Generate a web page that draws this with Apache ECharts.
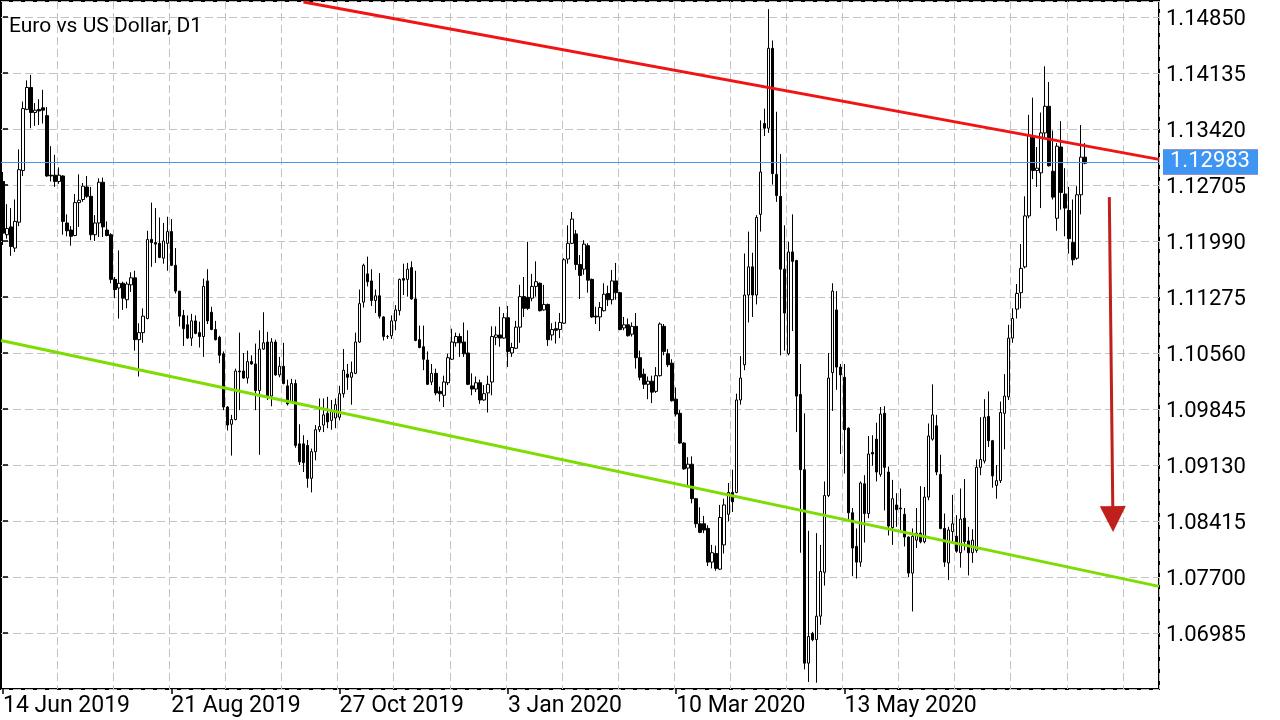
<!DOCTYPE html>
<html><head><meta charset="utf-8">
<style>html,body{margin:0;padding:0;background:#fff}#c{width:1280px;height:720px}</style>
<script src="https://cdn.jsdelivr.net/npm/echarts@6/dist/echarts.min.js"></script>
</head><body><div id="c"></div>
<script>
const chartTitle = 'Euro vs US Dollar, D1';
const tickLabels = ['14 Jun 2019', '21 Aug 2019', '27 Oct 2019', '3 Jan 2020', '10 Mar 2020', '13 May 2020'];
const labelStep = 42;
const gridStep = 14;
const slotCount = 289;
// daily candles: [open, close, low, high]
const ohlc = [
[1.1275,1.1209,1.1194,1.1287],[1.1207,1.1215,1.1202,1.1246],[1.1217,1.1192,1.1180,1.1241],[1.1190,1.1224,1.1185,1.1252],
[1.1223,1.1290,1.1218,1.1316],[1.1289,1.1368,1.1282,1.1377],[1.1367,1.1395,1.1366,1.1404],[1.1395,1.1363,1.1343,1.1411],
[1.1363,1.1366,1.1346,1.1375],[1.1367,1.1365,1.1347,1.1380],[1.1369,1.1366,1.1349,1.1392],[1.1359,1.1282,1.1281,1.1370],
[1.1283,1.1282,1.1275,1.1320],[1.1283,1.1275,1.1268,1.1309],[1.1275,1.1283,1.1272,1.1293],[1.1282,1.1224,1.1207,1.1283],
[1.1222,1.1212,1.1205,1.1233],[1.1213,1.1205,1.1193,1.1218],[1.1206,1.1248,1.1205,1.1259],[1.1248,1.1251,1.1217,1.1284],
[1.1252,1.1269,1.1249,1.1273],[1.1268,1.1256,1.1254,1.1282],[1.1256,1.1207,1.1200,1.1268],[1.1207,1.1222,1.1199,1.1232],
[1.1222,1.1274,1.1204,1.1279],[1.1274,1.1217,1.1204,1.1280],[1.1213,1.1206,1.1205,1.1224],[1.1207,1.1150,1.1145,1.1209],
[1.1150,1.1137,1.1126,1.1153],[1.1139,1.1145,1.1100,1.1187],[1.1145,1.1126,1.1111,1.1147],[1.1124,1.1144,1.1113,1.1147],
[1.1143,1.1152,1.1134,1.1159],[1.1152,1.1073,1.1059,1.1161],[1.1073,1.1082,1.1026,1.1094],[1.1082,1.1103,1.1069,1.1113],
[1.1100,1.1201,1.1099,1.1212],[1.1201,1.1197,1.1166,1.1248],[1.1197,1.1195,1.1171,1.1241],[1.1196,1.1178,1.1177,1.1229],
[1.1177,1.1199,1.1170,1.1222],[1.1196,1.1211,1.1161,1.1230],[1.1211,1.1168,1.1167,1.1227],[1.1168,1.1135,1.1132,1.1190],
[1.1135,1.1103,1.1090,1.1135],[1.1104,1.1087,1.1065,1.1111],[1.1092,1.1075,1.1074,1.1104],[1.1075,1.1097,1.1065,1.1106],
[1.1097,1.1081,1.1080,1.1104],[1.1082,1.1077,1.1063,1.1096],[1.1077,1.1141,1.1051,1.1151],[1.1148,1.1097,1.1093,1.1163],
[1.1108,1.1086,1.1085,1.1115],[1.1086,1.1073,1.1072,1.1097],[1.1076,1.1053,1.1043,1.1078],[1.1055,1.0987,1.0983,1.1058],
[1.0987,1.0964,1.0957,1.0988],[1.0965,1.0971,1.0925,1.0977],[1.0971,1.1033,1.0970,1.1036],[1.1033,1.1032,1.0983,1.1082],
[1.1033,1.1024,1.1023,1.1056],[1.1024,1.1045,1.1017,1.1059],[1.1045,1.1042,1.1041,1.1053],[1.1042,1.1008,1.0983,1.1068],
[1.1008,1.1061,1.0926,1.1085],[1.1061,1.1069,1.1060,1.1108],[1.1070,1.1000,1.0996,1.1083],[1.1001,1.1070,1.0988,1.1075],
[1.1070,1.1028,1.1027,1.1073],[1.1028,1.1039,1.1025,1.1051],[1.1039,1.1017,1.1016,1.1069],[1.1014,1.0991,1.0989,1.1022],
[1.0994,1.1017,1.0992,1.1023],[1.1017,1.0938,1.0935,1.1022],[1.0940,1.0917,1.0913,1.0965],[1.0940,1.0916,1.0904,1.0951],
[1.0938,1.0896,1.0884,1.0945],[1.0896,1.0930,1.0878,1.0934],[1.0930,1.0958,1.0919,1.0964],[1.0958,1.0962,1.0955,1.0998],
[1.0964,1.0977,1.0955,1.0998],[1.0979,1.0968,1.0960,1.1000],[1.0970,1.0983,1.0958,1.0996],[1.0973,1.0990,1.0960,1.0998],
[1.0974,1.1004,1.0970,1.1014],[1.1004,1.1034,1.0999,1.1061],[1.1029,1.1025,1.1009,1.1042],[1.1025,1.1031,1.0990,1.1045],
[1.1030,1.1070,1.1029,1.1082],[1.1070,1.1119,1.1069,1.1137],[1.1121,1.1168,1.1114,1.1170],[1.1157,1.1147,1.1141,1.1179],
[1.1148,1.1123,1.1116,1.1163],[1.1123,1.1129,1.1107,1.1137],[1.1129,1.1103,1.1100,1.1158],[1.1102,1.1077,1.1072,1.1103],
[1.1077,1.1077,1.1074,1.1079],[1.1078,1.1097,1.1074,1.1104],[1.1097,1.1111,1.1085,1.1117],[1.1110,1.1150,1.1104,1.1151],
[1.1151,1.1149,1.1130,1.1170],[1.1150,1.1163,1.1128,1.1171],[1.1165,1.1125,1.1124,1.1173],[1.1125,1.1072,1.1071,1.1161],
[1.1073,1.1063,1.1062,1.1091],[1.1064,1.1048,1.1034,1.1091],[1.1047,1.1016,1.1015,1.1058],[1.1019,1.1030,1.1015,1.1042],
[1.1030,1.1005,1.1002,1.1036],[1.1007,1.1004,1.0994,1.1013],[1.1002,1.1019,1.0987,1.1027],[1.1018,1.1050,1.1015,1.1055],
[1.1048,1.1070,1.1047,1.1087],[1.1069,1.1077,1.1064,1.1082],[1.1077,1.1069,1.1051,1.1081],[1.1070,1.1055,1.1051,1.1095],
[1.1056,1.1016,1.1015,1.1085],[1.1014,1.1010,1.1002,1.1030],[1.1010,1.1018,1.1006,1.1026],[1.1018,1.0996,1.0991,1.1022],
[1.0996,1.1004,1.0995,1.1015],[1.1005,1.1016,1.0980,1.1027],[1.1019,1.1077,1.1002,1.1090],[1.1076,1.1079,1.1066,1.1090],
[1.1079,1.1075,1.1064,1.1115],[1.1075,1.1101,1.1074,1.1107],[1.1101,1.1058,1.1038,1.1116],[1.1056,1.1063,1.1051,1.1069],
[1.1062,1.1089,1.1061,1.1097],[1.1089,1.1128,1.1069,1.1143],[1.1128,1.1113,1.1102,1.1153],[1.1127,1.1113,1.1111,1.1198],
[1.1126,1.1141,1.1122,1.1157],[1.1141,1.1147,1.1128,1.1173],[1.1145,1.1110,1.1109,1.1146],[1.1111,1.1118,1.1110,1.1143],
[1.1118,1.1073,1.1065,1.1119],[1.1079,1.1086,1.1072,1.1094],[1.1087,1.1085,1.1068,1.1096],[1.1086,1.1095,1.1075,1.1107],
[1.1094,1.1175,1.1093,1.1177],[1.1176,1.1196,1.1170,1.1219],[1.1196,1.1227,1.1195,1.1236],[1.1208,1.1169,1.1162,1.1213],
[1.1169,1.1155,1.1125,1.1181],[1.1163,1.1195,1.1156,1.1200],[1.1193,1.1149,1.1133,1.1196],[1.1150,1.1102,1.1101,1.1151],
[1.1103,1.1102,1.1093,1.1115],[1.1102,1.1114,1.1084,1.1121],[1.1110,1.1131,1.1109,1.1145],[1.1132,1.1124,1.1116,1.1142],
[1.1124,1.1148,1.1118,1.1162],[1.1148,1.1133,1.1124,1.1171],[1.1133,1.1086,1.1085,1.1134],[1.1088,1.1092,1.1085,1.1102],
[1.1092,1.1078,1.1077,1.1100],[1.1080,1.1090,1.1077,1.1095],[1.1090,1.1050,1.1036,1.1107],[1.1050,1.1025,1.1021,1.1059],
[1.1029,1.1016,1.1010,1.1036],[1.1016,1.1020,1.0997,1.1026],[1.1020,1.1006,1.0992,1.1027],[1.1007,1.1027,1.1005,1.1038],
[1.1027,1.1093,1.1026,1.1095],[1.1090,1.1058,1.1053,1.1093],[1.1055,1.1041,1.1038,1.1061],[1.1043,1.0995,1.0994,1.1048],
[1.0997,1.0978,1.0975,1.1012],[1.0979,1.0941,1.0940,1.0983],[1.0941,1.0908,1.0907,1.0942],[1.0909,1.0914,1.0887,1.0923],
[1.0914,1.0870,1.0864,1.0924],[1.0870,1.0838,1.0833,1.0871],[1.0838,1.0827,1.0826,1.0859],[1.0838,1.0830,1.0826,1.0848],
[1.0832,1.0789,1.0784,1.0836],[1.0789,1.0801,1.0781,1.0811],[1.0800,1.0781,1.0778,1.0810],[1.0780,1.0846,1.0779,1.0862],
[1.0811,1.0862,1.0800,1.0870],[1.0850,1.0878,1.0841,1.0890],[1.0878,1.0866,1.0853,1.0907],[1.0878,1.0996,1.0877,1.1004],
[1.0996,1.1024,1.0990,1.1052],[1.1041,1.1130,1.1034,1.1183],[1.1130,1.1166,1.1095,1.1211],[1.1166,1.1130,1.1102,1.1184],
[1.1130,1.1229,1.1118,1.1232],[1.1233,1.1287,1.1211,1.1353],[1.1349,1.1343,1.1333,1.1368],[1.1343,1.1445,1.1337,1.1495],
[1.1445,1.1285,1.1271,1.1455],[1.1284,1.1257,1.1249,1.1364],[1.1256,1.1163,1.1053,1.1310],[1.1163,1.1107,1.1059,1.1219],
[1.1055,1.1185,1.1053,1.1198],[1.1185,1.1173,1.1084,1.1233],[1.1174,1.1001,1.0955,1.1175],[1.1003,1.0907,1.0801,1.1042],
[1.0907,1.0660,1.0652,1.0979],[1.0660,1.0694,1.0636,1.0829],[1.0698,1.0690,1.0688,1.0700],[1.0690,1.0720,1.0635,1.0826],
[1.0720,1.0777,1.0709,1.0811],[1.0776,1.0874,1.0759,1.0892],[1.0874,1.1024,1.0872,1.1056],[1.1031,1.1135,1.0982,1.1145],
[1.1111,1.1038,1.1009,1.1135],[1.1038,1.1028,1.0927,1.1042],[1.1025,1.0958,1.0902,1.1042],[1.0960,1.0852,1.0843,1.0961],
[1.0852,1.0807,1.0771,1.0858],[1.0809,1.0789,1.0768,1.0832],[1.0789,1.0890,1.0783,1.0892],[1.0889,1.0851,1.0814,1.0900],
[1.0851,1.0927,1.0845,1.0950],[1.0929,1.0927,1.0912,1.0951],[1.0946,1.0904,1.0892,1.0967],[1.0901,1.0978,1.0898,1.0987],
[1.0979,1.0910,1.0855,1.0988],[1.0904,1.0835,1.0823,1.0911],[1.0833,1.0870,1.0811,1.0894],[1.0862,1.0856,1.0834,1.0877],
[1.0858,1.0857,1.0830,1.0883],[1.0850,1.0821,1.0809,1.0858],[1.0821,1.0775,1.0770,1.0822],[1.0775,1.0822,1.0726,1.0832],
[1.0817,1.0826,1.0807,1.0858],[1.0826,1.0815,1.0813,1.0886],[1.0815,1.0872,1.0813,1.0885],[1.0872,1.0950,1.0868,1.0966],
[1.0946,1.0977,1.0944,1.1016],[1.0963,1.0904,1.0900,1.0977],[1.0901,1.0832,1.0831,1.0926],[1.0832,1.0789,1.0783,1.0851],
[1.0788,1.0830,1.0766,1.0834],[1.0828,1.0838,1.0814,1.0875],[1.0822,1.0803,1.0801,1.0849],[1.0801,1.0844,1.0782,1.0883],
[1.0845,1.0815,1.0804,1.0895],[1.0816,1.0801,1.0772,1.0834],[1.0801,1.0817,1.0788,1.0831],[1.0804,1.0910,1.0801,1.0920],
[1.0910,1.0920,1.0900,1.0974],[1.0918,1.0974,1.0915,1.0997],[1.0975,1.0944,1.0936,1.1007],[1.0944,1.0899,1.0884,1.0945],
[1.0887,1.0893,1.0870,1.0913],[1.0893,1.0980,1.0890,1.0994],[1.0979,1.1001,1.0933,1.1029],[1.1000,1.1075,1.0996,1.1092],
[1.1075,1.1100,1.1069,1.1113],[1.1112,1.1132,1.1100,1.1144],[1.1133,1.1164,1.1113,1.1195],[1.1166,1.1231,1.1164,1.1256],
[1.1231,1.1334,1.1228,1.1360],[1.1331,1.1289,1.1278,1.1382],[1.1289,1.1292,1.1268,1.1319],[1.1286,1.1337,1.1241,1.1363],
[1.1337,1.1371,1.1330,1.1422],[1.1371,1.1295,1.1294,1.1402],[1.1288,1.1255,1.1252,1.1340],[1.1228,1.1320,1.1212,1.1324],
[1.1319,1.1261,1.1239,1.1352],[1.1259,1.1241,1.1205,1.1292],[1.1238,1.1202,1.1183,1.1268],[1.1197,1.1175,1.1168,1.1252],
[1.1177,1.1258,1.1175,1.1269],[1.1258,1.1306,1.1233,1.1347],[1.1306,1.12983,1.1297,1.1324]
];
const bidPrice = 1.12983;
const askPrice = 1.13012;
// trend lines as [bar position, price]
const resistanceLine = [[75.0, 1.15042], [288.5, 1.13032]];
const supportLine = [[-0.5, 1.10720], [288.5, 1.07580]];
const arrowLine = [[276.1, 1.1255], [277.0, 1.0844]];
const yMin = 1.06270, yMax = 1.15054, yStep = 0.00715;

const font = 'Roboto';
const chart = echarts.init(document.getElementById('c'), null, {renderer: 'canvas'});
const priceLabel = (txt, bg) => ({
  show: true, position: 'end', distance: 4, formatter: txt,
  color: '#fff', backgroundColor: bg, fontFamily: font, fontSize: 22,
  padding: [6, 8, 1, 7], lineHeight: 18
});
const showTick = (i) => i % labelStep === 0 && i / labelStep < tickLabels.length;
chart.setOption({
  animation: false,
  backgroundColor: '#fff',
  title: {text: chartTitle, left: 9, top: 16, padding: 0,
    textStyle: {fontFamily: font, fontSize: 21, fontWeight: 'normal', color: '#000'}},
  grid: {left: 1, right: 121, top: 1, bottom: 31, show: true, borderColor: '#000', borderWidth: 2},
  xAxis: [{
    type: 'category', boundaryGap: true,
    data: Array.from({length: slotCount}, (_, i) => String(i)),
    axisLine: {show: false},
    axisTick: {show: true, interval: showTick, alignWithLabel: true, length: 5, lineStyle: {color: '#000', width: 1.5}},
    axisLabel: {show: true, interval: showTick,
      formatter: (v, i) => tickLabels[i / labelStep] || '', align: 'left', margin: 6,
      fontFamily: font, fontSize: 23, color: '#000'},
    splitLine: {show: true, interval: (i) => i % gridStep === 0 && i > 0,
      lineStyle: {color: '#c3c3c3', type: [8, 4], width: 1}}
  }, {type: 'value', min: -0.5, max: slotCount - 0.5, show: false}],
  yAxis: {
    type: 'value', position: 'right', min: yMin, max: yMax, interval: yStep,
    axisLine: {show: false},
    axisTick: {show: true, length: 5, lineStyle: {color: '#000', width: 1.5}},
    axisLabel: {formatter: (v) => '{p|' + v.toFixed(5) + '}', showMinLabel: false, showMaxLabel: false, margin: 7,
      rich: {p: {padding: [6, 0, 0, 0], fontFamily: font, fontSize: 22, color: '#000'}}},
    splitLine: {show: true, lineStyle: {color: '#c3c3c3', type: [8, 4], width: 1}}
  },
  series: [
    {
      type: 'candlestick', data: ohlc, barWidth: 3,
      itemStyle: {color: '#fff', color0: '#000', borderColor: '#000', borderColor0: '#000', borderColorDoji: '#000', borderWidth: 1},
      markLine: {
        silent: true, symbol: 'none', animation: false,
        data: [{yAxis: askPrice, lineStyle: {color: '#e8262a', width: 1, type: 'solid'}, label: priceLabel(askPrice.toFixed(5), '#e8262a')}]
      }
    },
    {type: 'line', xAxisIndex: 1, data: resistanceLine, symbol: 'none', silent: true,
      lineStyle: {color: '#f01414', width: 3},
      markLine: {silent: true, symbol: ['none', 'triangle'], symbolSize: 26, animation: false,
        label: {show: false},
        data: [[{coord: arrowLine[0]}, {coord: arrowLine[1]}]],
        lineStyle: {color: '#c0201c', width: 3, type: 'solid'}}},
    {type: 'line', xAxisIndex: 1, data: supportLine, symbol: 'none', silent: true,
      lineStyle: {color: '#7ddc00', width: 3},
      markLine: {
        silent: true, symbol: 'none', animation: false,
        data: [{yAxis: bidPrice, lineStyle: {color: '#4a97f0', width: 1, type: 'solid'}, label: priceLabel(bidPrice.toFixed(5), '#3f95f2')}]
      }}
  ]
});
</script></body></html>
